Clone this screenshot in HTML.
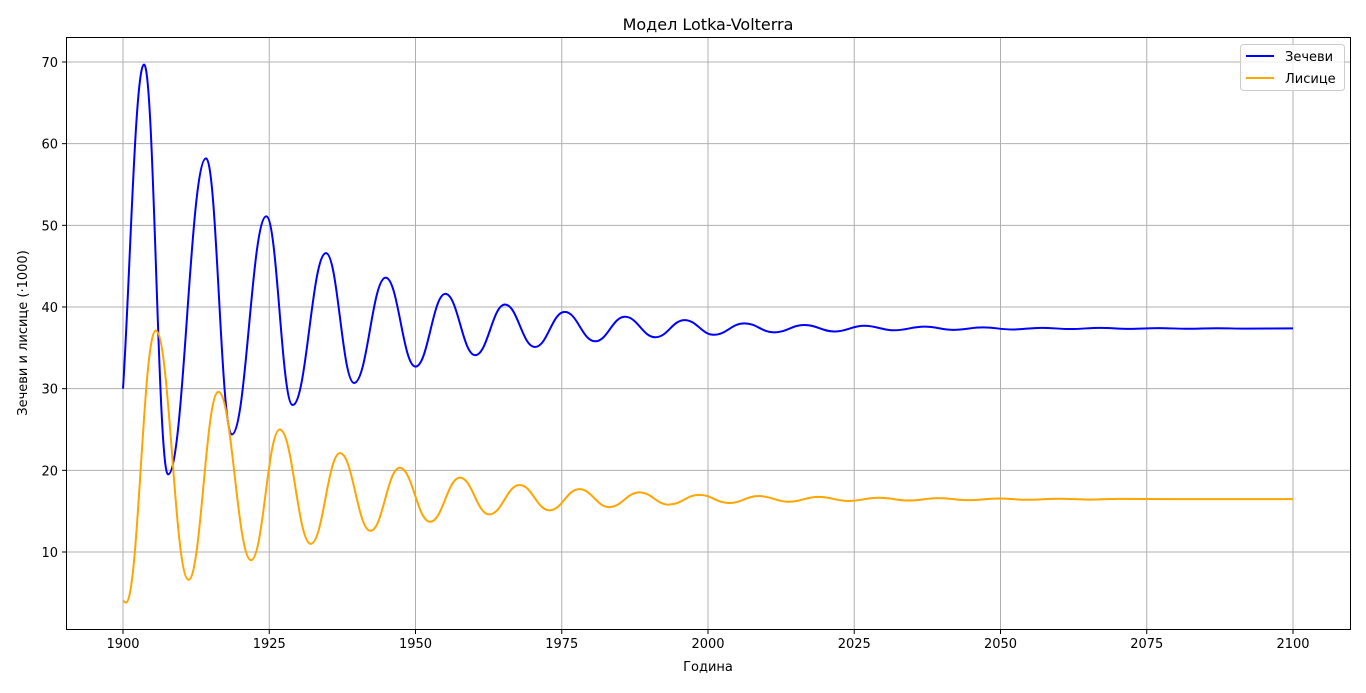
<!DOCTYPE html>
<html><head><meta charset="utf-8"><style>
body{margin:0;background:#fff;font-family:"Liberation Sans","DejaVu Sans",sans-serif}
svg text{font-family:"DejaVu Sans","Liberation Sans",sans-serif}
</style></head><body>
<svg id="chart" width="1366" height="688">
<rect width="1366" height="688" fill="#fff"/>
<g id="grid"></g><g id="series"></g><g id="axes"></g>
<text x="708" y="30" font-size="16" text-anchor="middle">Модел Lotka-Volterra</text>
<text x="708" y="671" font-size="13" text-anchor="middle">Година</text>
<text transform="translate(27,333) rotate(-90)" font-size="13" text-anchor="middle">Зечеви и лисице (·1000)</text>
<g>
<rect x="1240.5" y="44.5" width="104" height="46" rx="3" fill="#fff" fill-opacity="0.8" stroke="#ccc"/>
<g><line x1="1246" y1="56" x2="1274" y2="56" stroke="#0000ff" stroke-width="2"/><text x="1285" y="61" font-size="13">Зечеви</text></g>
<g><line x1="1246" y1="78" x2="1274" y2="78" stroke="#ffa500" stroke-width="2"/><text x="1285" y="83" font-size="13">Лисице</text></g>
</g>
</svg>
<script>
const xTicks=[1900,1925,1950,1975,2000,2025,2050,2075,2100];
const yTicks=[10,20,30,40,50,60,70];
const rabbitYears=[1900,1903.6,1907.7,1914.2,1918.6,1924.5,1929,1934.7,1939.5,1944.9,1950,1955.1,1960.2,1965.3,1970.4,1975.5,1980.7,1985.8,1991,1996,2001,2006.2,2011.3,2016.5,2021.6,2026.7,2031.8,2037,2042,2047,2052,2057,2062,2067,2072,2077,2082,2087,2092,2100];
const rabbitValues=[30,69.7,19.5,58.2,24.4,51.1,28,46.6,30.7,43.6,32.7,41.6,34.1,40.3,35.1,39.4,35.8,38.8,36.3,38.4,36.6,38.0,36.9,37.8,37.0,37.7,37.15,37.6,37.2,37.5,37.25,37.45,37.3,37.45,37.32,37.42,37.33,37.4,37.35,37.38];
const foxYears=[1900,1900.5,1905.6,1911.2,1916.3,1921.9,1926.8,1932.1,1937.1,1942.3,1947.3,1952.5,1957.6,1962.6,1967.8,1972.9,1978,1983.1,1988.3,1993.3,1998.5,2003.6,2008.7,2013.8,2018.9,2024,2029.2,2034.3,2039.4,2044.5,2049.6,2054.7,2060,2065,2070,2080,2100];
const foxValues=[4.0,3.8,37.1,6.6,29.6,9.0,25.0,11.0,22.1,12.6,20.3,13.7,19.1,14.6,18.2,15.1,17.7,15.5,17.3,15.8,17.0,16.0,16.85,16.15,16.75,16.25,16.65,16.3,16.6,16.35,16.55,16.4,16.52,16.42,16.5,16.48,16.48];
const L=66,R=1351,T=37,B=630;
const xs=v=>123+(v-1900)*5.85;
const ys=v=>552-(v-10)*490/60;
const NS="http://www.w3.org/2000/svg";
function mk(tag,attrs,parent){const e=document.createElementNS(NS,tag);for(const k in attrs)e.setAttribute(k,attrs[k]);parent.appendChild(e);return e;}
const grid=document.getElementById('grid'),axes=document.getElementById('axes'),ser=document.getElementById('series');
xTicks.forEach(t=>{const x=xs(t);
 const g=mk('line',{x1:x,x2:x,y1:T,y2:B,stroke:'#b0b0b0','stroke-width':1},grid);
 
 
 mk('line',{x1:x,x2:x,y1:B,y2:B+4,stroke:'#000'},axes);
 const tx=mk('text',{x:x,y:B+18,'font-size':13,'text-anchor':'middle'},axes);tx.textContent=t;
 
 
});
yTicks.forEach(t=>{const y=ys(t);
 const g=mk('line',{x1:L,x2:R,y1:y,y2:y,stroke:'#b0b0b0','stroke-width':1},grid);
 
 
 mk('line',{x1:L-4,x2:L,y1:y,y2:y,stroke:'#000'},axes);
 const tx=mk('text',{x:L-8,y:y+5,'font-size':13,'text-anchor':'end'},axes);tx.textContent=t;
 
 
});
const frame=mk('rect',{x:L+0.5,y:T+0.5,width:R-L-1,height:B-T-1,fill:'none',stroke:'#000'},axes);


function path(years,vals,steepStart){
 let d='M'+xs(years[0])+','+ys(vals[0]);
 for(let i=1;i<years.length;i++){
  const x0=xs(years[i-1]),y0=ys(vals[i-1]),x1=xs(years[i]),y1=ys(vals[i]);const dx=(x1-x0)*0.42;
  let c1x=x0+dx,c1y=y0;
  if(i===1&&steepStart){c1x=x0+(x1-x0)*0.33;c1y=y0+(y1-y0)*0.33;}
  d+=' C'+c1x+','+c1y+' '+(x1-dx)+','+y1+' '+x1+','+y1;
 }
 return d;
}
const pr=mk('path',{d:path(rabbitYears,rabbitValues,true),fill:'none',stroke:'#0000ff','stroke-width':2},ser);


const pf=mk('path',{d:path(foxYears,foxValues,false),fill:'none',stroke:'#ffa500','stroke-width':2},ser);


</script>
</body></html>
